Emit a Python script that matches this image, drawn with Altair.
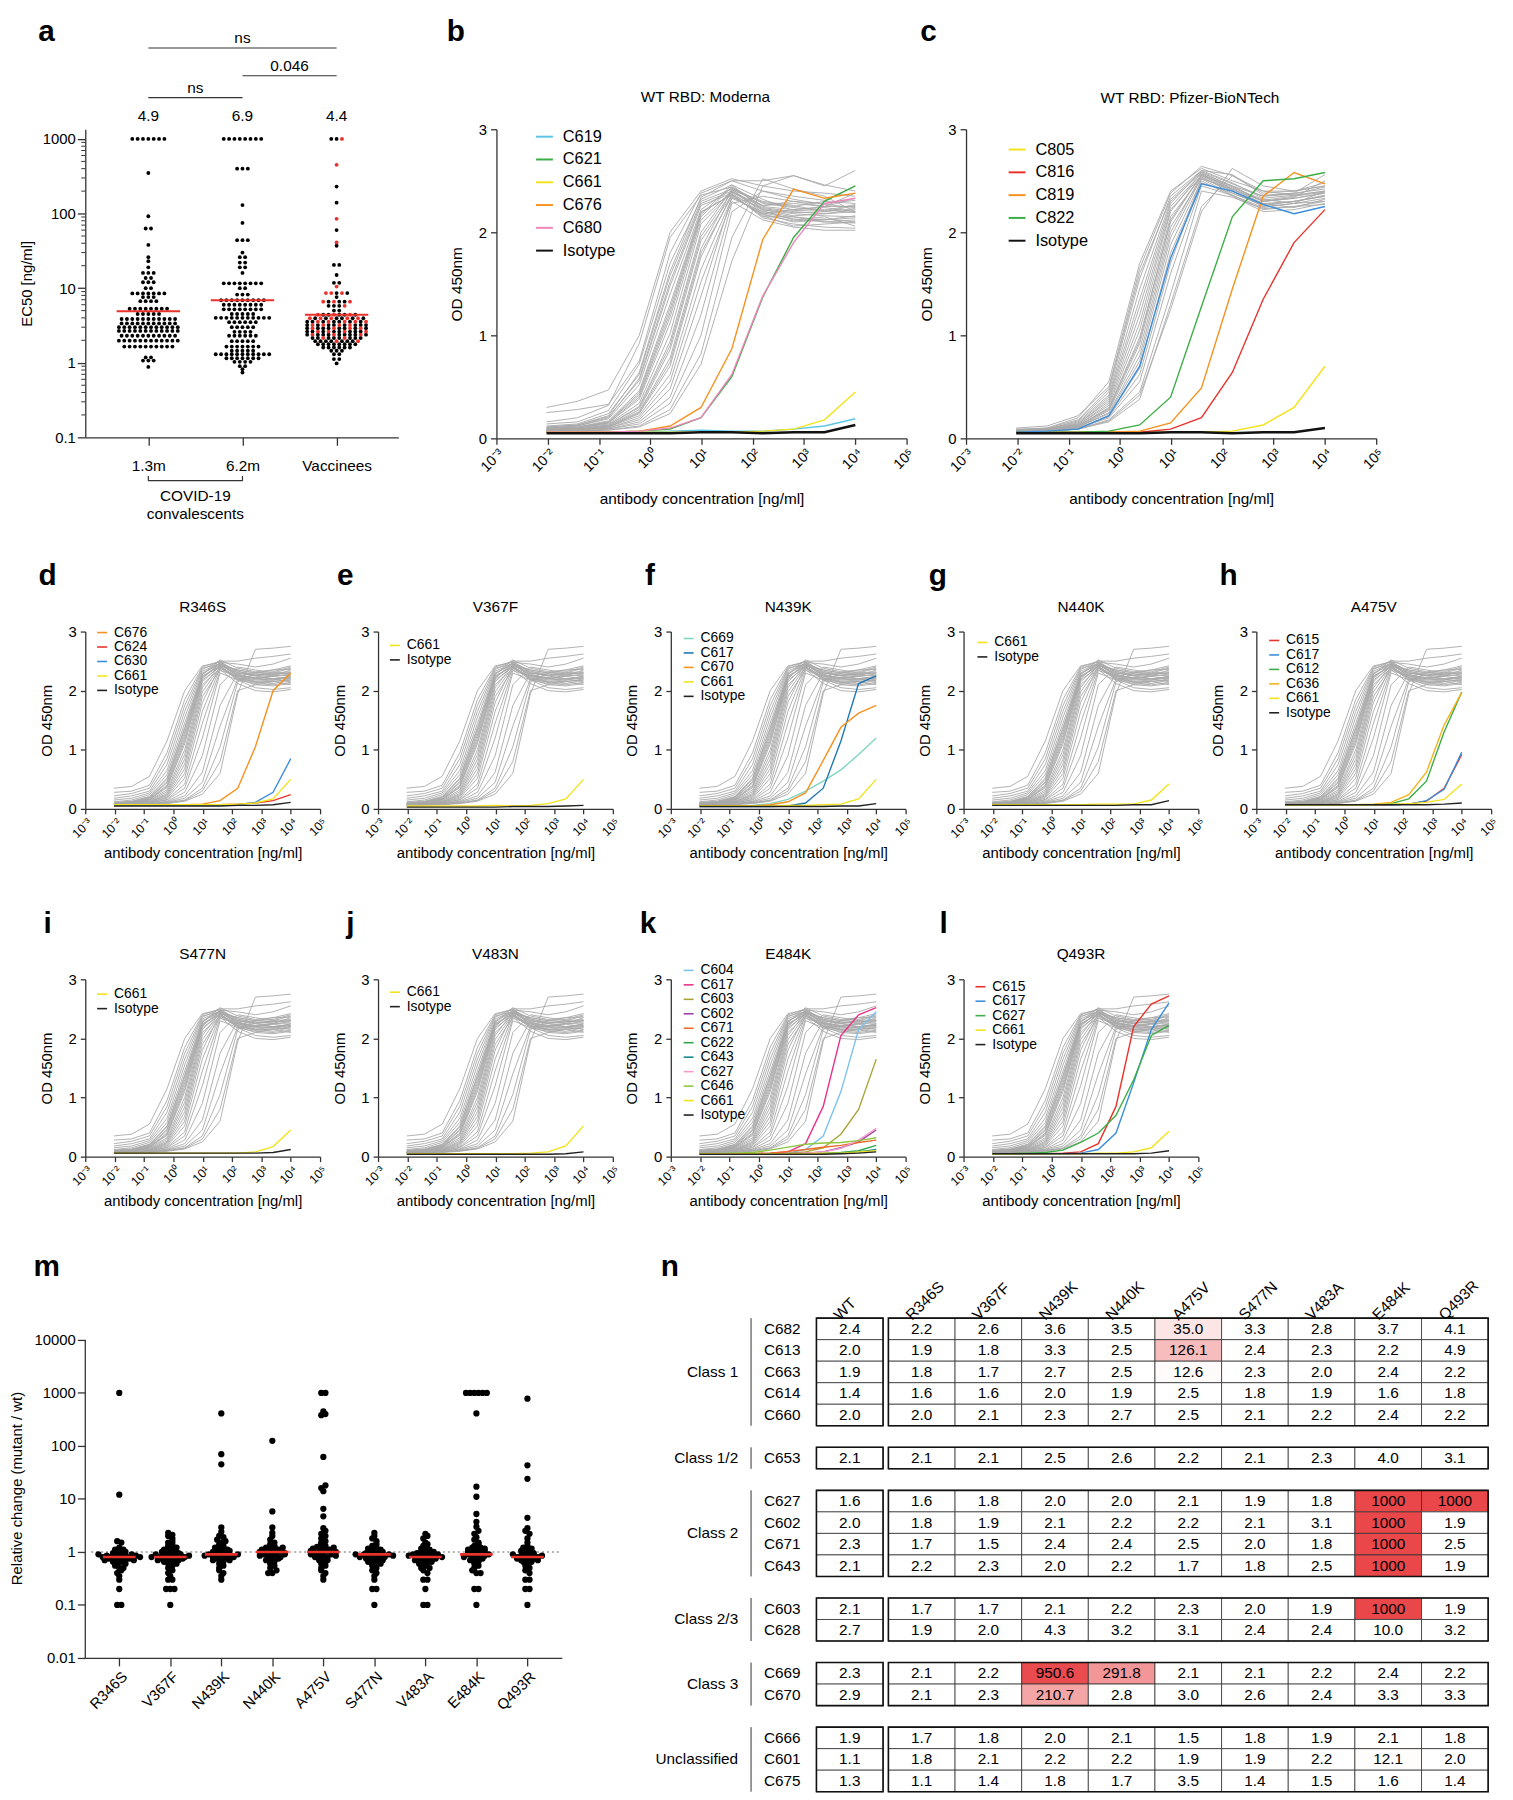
import altair as alt
import numpy as np
import pandas as pd

FONT = "Liberation Sans"
AXC = "#333333"
GRAY = "#A8A8A8"
RED = "#E8322B"

# ---------------- shared curve data ----------------
CONC = [0.0095, 0.038, 0.153, 0.61, 2.44, 9.77, 39.06, 156.25, 625.0, 2500.0, 10000.0]
X_TICKS = [0.001, 0.01, 0.1, 1, 10, 100, 1000, 10000, 100000]
X_TICK_LABELS = ["10⁻³", "10⁻²", "10⁻¹", "10⁰", "10¹", "10²", "10³", "10⁴", "10⁵"]
OD_TICKS = [0, 1, 2, 3]

GRAY_B = [
    [0.30, 0.36, 0.47, 1.00, 2.00, 2.40, 2.52, 2.45, 2.40, 2.38, 2.35],
    [0.25, 0.28, 0.33, 0.75, 1.80, 2.38, 2.50, 2.50, 2.55, 2.45, 2.60],
    [0.16, 0.20, 0.32, 0.92, 1.95, 2.36, 2.44, 2.25, 2.22, 2.25, 2.38],
    [0.14, 0.16, 0.27, 0.72, 1.70, 2.32, 2.46, 2.22, 2.16, 2.18, 2.22],
    [0.12, 0.14, 0.24, 0.62, 1.58, 2.30, 2.42, 2.30, 2.26, 2.20, 2.26],
    [0.11, 0.13, 0.21, 0.56, 1.48, 2.26, 2.38, 2.18, 2.10, 2.12, 2.16],
    [0.10, 0.12, 0.19, 0.52, 1.40, 2.22, 2.43, 2.26, 2.30, 2.28, 2.31],
    [0.10, 0.11, 0.17, 0.46, 1.30, 2.20, 2.36, 2.16, 2.06, 2.08, 2.10],
    [0.09, 0.11, 0.16, 0.42, 1.22, 2.17, 2.46, 2.32, 2.21, 2.22, 2.19],
    [0.09, 0.10, 0.15, 0.38, 1.12, 2.12, 2.40, 2.21, 2.12, 2.15, 2.06],
    [0.08, 0.10, 0.14, 0.34, 1.02, 2.08, 2.39, 2.26, 2.28, 2.25, 2.33],
    [0.08, 0.09, 0.13, 0.31, 0.94, 2.00, 2.42, 2.19, 2.13, 2.10, 2.09],
    [0.08, 0.09, 0.12, 0.28, 0.86, 1.92, 2.36, 2.23, 2.19, 2.20, 2.23],
    [0.07, 0.09, 0.12, 0.26, 0.78, 1.84, 2.41, 2.29, 2.25, 2.30, 2.28],
    [0.07, 0.08, 0.11, 0.24, 0.70, 1.76, 2.37, 2.14, 2.08, 2.05, 2.04],
    [0.07, 0.08, 0.11, 0.22, 0.62, 1.64, 2.33, 2.20, 2.15, 2.12, 2.14],
    [0.07, 0.08, 0.10, 0.20, 0.55, 1.52, 2.30, 2.12, 2.05, 2.02, 2.02],
    [0.07, 0.08, 0.10, 0.18, 0.48, 1.38, 2.34, 2.18, 2.22, 2.24, 2.20],
    [0.06, 0.07, 0.09, 0.16, 0.40, 1.20, 2.28, 2.35, 2.30, 2.25, 2.25],
    [0.06, 0.07, 0.09, 0.14, 0.34, 1.00, 2.20, 2.40, 2.32, 2.27, 2.24],
    [0.06, 0.07, 0.08, 0.12, 0.28, 0.82, 1.95, 2.52, 2.42, 2.35, 2.20],
    [0.06, 0.07, 0.08, 0.11, 0.24, 0.72, 1.72, 2.45, 2.55, 2.46, 2.40],
    [0.11, 0.13, 0.22, 0.64, 1.62, 2.34, 2.50, 2.40, 2.35, 2.31, 2.45],
    [0.09, 0.10, 0.16, 0.44, 1.26, 2.19, 2.37, 2.15, 2.15, 2.10, 2.12],
    [0.10, 0.12, 0.20, 0.58, 1.52, 2.28, 2.40, 2.24, 2.20, 2.18, 2.20],
    [0.08, 0.10, 0.15, 0.40, 1.18, 2.15, 2.44, 2.28, 2.24, 2.21, 2.27],
    [0.07, 0.09, 0.13, 0.30, 0.90, 1.96, 2.39, 2.22, 2.18, 2.16, 2.15],
    [0.07, 0.08, 0.11, 0.25, 0.74, 1.80, 2.35, 2.17, 2.11, 2.13, 2.10],
]

GRAY_C = [
    [0.09, 0.10, 0.20, 0.55, 1.70, 2.40, 2.62, 2.50, 2.40, 2.40, 2.45],
    [0.08, 0.09, 0.17, 0.45, 1.55, 2.35, 2.60, 2.56, 2.36, 2.38, 2.42],
    [0.08, 0.09, 0.16, 0.42, 1.45, 2.30, 2.58, 2.45, 2.30, 2.33, 2.38],
    [0.08, 0.09, 0.15, 0.40, 1.35, 2.28, 2.60, 2.48, 2.33, 2.36, 2.40],
    [0.07, 0.09, 0.14, 0.38, 1.28, 2.25, 2.57, 2.42, 2.28, 2.30, 2.35],
    [0.07, 0.08, 0.14, 0.36, 1.20, 2.22, 2.55, 2.40, 2.25, 2.28, 2.33],
    [0.07, 0.08, 0.13, 0.34, 1.12, 2.20, 2.58, 2.44, 2.30, 2.34, 2.50],
    [0.07, 0.08, 0.13, 0.32, 1.05, 2.15, 2.54, 2.38, 2.26, 2.30, 2.36],
    [0.07, 0.08, 0.12, 0.30, 0.98, 2.10, 2.56, 2.43, 2.32, 2.28, 2.40],
    [0.07, 0.08, 0.12, 0.28, 0.92, 2.05, 2.52, 2.36, 2.22, 2.25, 2.30],
    [0.07, 0.08, 0.11, 0.27, 0.86, 2.00, 2.55, 2.45, 2.35, 2.38, 2.56],
    [0.06, 0.08, 0.11, 0.25, 0.80, 1.95, 2.53, 2.40, 2.28, 2.24, 2.32],
    [0.06, 0.07, 0.11, 0.24, 0.75, 1.88, 2.50, 2.35, 2.20, 2.22, 2.28],
    [0.06, 0.07, 0.10, 0.22, 0.68, 1.80, 2.48, 2.38, 2.27, 2.30, 2.35],
    [0.06, 0.07, 0.10, 0.21, 0.62, 1.70, 2.52, 2.42, 2.30, 2.33, 2.38],
    [0.06, 0.07, 0.10, 0.20, 0.55, 1.60, 2.45, 2.36, 2.24, 2.28, 2.30],
    [0.06, 0.07, 0.09, 0.18, 0.45, 1.40, 2.40, 2.34, 2.23, 2.25, 2.27],
    [0.06, 0.07, 0.09, 0.17, 0.42, 1.25, 2.20, 2.62, 2.45, 2.40, 2.45],
    [0.06, 0.07, 0.09, 0.16, 0.38, 1.30, 2.25, 2.55, 2.40, 2.36, 2.40],
    [0.10, 0.12, 0.22, 0.50, 1.65, 2.38, 2.64, 2.55, 2.38, 2.40, 2.48],
    [0.08, 0.10, 0.18, 0.48, 1.60, 2.32, 2.59, 2.47, 2.35, 2.37, 2.44],
    [0.07, 0.08, 0.12, 0.29, 0.95, 2.12, 2.56, 2.41, 2.31, 2.35, 2.39],
]

GRAY_S = [
    [0.35, 0.38, 0.55, 1.15, 2.00, 2.42, 2.48, 2.45, 2.40, 2.45, 2.55],
    [0.28, 0.30, 0.40, 0.95, 1.85, 2.40, 2.50, 2.50, 2.55, 2.58, 2.62],
    [0.22, 0.26, 0.35, 0.85, 1.75, 2.38, 2.45, 2.35, 2.30, 2.28, 2.30],
    [0.18, 0.22, 0.30, 0.75, 1.65, 2.36, 2.50, 2.30, 2.25, 2.20, 2.22],
    [0.15, 0.18, 0.27, 0.65, 1.55, 2.33, 2.46, 2.28, 2.20, 2.18, 2.25],
    [0.12, 0.15, 0.24, 0.58, 1.45, 2.30, 2.44, 2.25, 2.18, 2.20, 2.15],
    [0.11, 0.13, 0.21, 0.52, 1.38, 2.28, 2.47, 2.32, 2.28, 2.25, 2.35],
    [0.10, 0.12, 0.19, 0.46, 1.30, 2.25, 2.42, 2.20, 2.10, 2.08, 2.12],
    [0.09, 0.11, 0.17, 0.40, 1.20, 2.22, 2.45, 2.27, 2.22, 2.25, 2.28],
    [0.09, 0.10, 0.16, 0.36, 1.10, 2.18, 2.40, 2.18, 2.05, 2.02, 2.05],
    [0.08, 0.10, 0.15, 0.32, 1.00, 2.15, 2.43, 2.30, 2.26, 2.30, 2.38],
    [0.08, 0.09, 0.14, 0.29, 0.92, 2.10, 2.38, 2.22, 2.15, 2.12, 2.18],
    [0.08, 0.09, 0.13, 0.26, 0.84, 2.05, 2.44, 2.26, 2.20, 2.24, 2.20],
    [0.07, 0.09, 0.12, 0.24, 0.76, 1.98, 2.40, 2.24, 2.16, 2.18, 2.22],
    [0.07, 0.08, 0.12, 0.22, 0.68, 1.90, 2.36, 2.12, 2.00, 1.98, 2.02],
    [0.07, 0.08, 0.11, 0.20, 0.60, 1.80, 2.42, 2.35, 2.30, 2.32, 2.40],
    [0.07, 0.08, 0.11, 0.18, 0.52, 1.65, 2.38, 2.20, 2.14, 2.16, 2.18],
    [0.06, 0.08, 0.10, 0.16, 0.42, 1.45, 2.34, 2.25, 2.22, 2.20, 2.24],
    [0.06, 0.07, 0.10, 0.15, 0.35, 1.20, 2.30, 2.18, 2.12, 2.10, 2.14],
    [0.06, 0.07, 0.09, 0.13, 0.28, 0.90, 2.10, 2.40, 2.35, 2.30, 2.32],
    [0.06, 0.07, 0.09, 0.12, 0.22, 0.62, 1.75, 2.30, 2.25, 2.28, 2.30],
    [0.06, 0.07, 0.08, 0.11, 0.18, 0.45, 1.40, 2.20, 2.20, 2.25, 2.26],
    [0.06, 0.07, 0.08, 0.10, 0.15, 0.35, 1.05, 2.15, 2.30, 2.35, 2.36],
    [0.06, 0.06, 0.08, 0.10, 0.14, 0.30, 0.80, 2.00, 2.10, 2.15, 2.20],
    [0.06, 0.06, 0.07, 0.09, 0.13, 0.25, 0.60, 1.95, 2.70, 2.72, 2.75],
    [0.10, 0.12, 0.20, 0.50, 1.35, 2.27, 2.52, 2.38, 2.32, 2.35, 2.42],
    [0.09, 0.11, 0.18, 0.44, 1.25, 2.24, 2.41, 2.22, 2.14, 2.16, 2.10],
    [0.08, 0.10, 0.16, 0.38, 1.15, 2.20, 2.48, 2.33, 2.26, 2.28, 2.30],
]

# ---- coloured curves, panel by panel ----
B_NAMES = ["C619", "C621", "C661", "C676", "C680", "Isotype"]
B_VALUES = [
    [0.06, 0.06, 0.06, 0.06, 0.07, 0.08, 0.07, 0.07, 0.09, 0.12, 0.19],
    [0.06, 0.06, 0.06, 0.07, 0.09, 0.20, 0.60, 1.37, 1.95, 2.30, 2.45],
    [0.06, 0.06, 0.06, 0.06, 0.06, 0.06, 0.06, 0.07, 0.09, 0.18, 0.45],
    [0.06, 0.06, 0.06, 0.07, 0.12, 0.30, 0.87, 1.93, 2.42, 2.33, 2.38],
    [0.06, 0.06, 0.06, 0.07, 0.10, 0.20, 0.62, 1.38, 1.90, 2.28, 2.33],
    [0.05, 0.05, 0.05, 0.05, 0.05, 0.06, 0.06, 0.05, 0.06, 0.06, 0.13],
]
C_NAMES = ["C805", "C816", "C819", "C822", "C8xx", "Isotype"]
C_LEGEND = ["C805", "C816", "C819", "C822", "Isotype"]
C_VALUES = [
    [0.06, 0.06, 0.06, 0.06, 0.06, 0.06, 0.06, 0.07, 0.13, 0.30, 0.70],
    [0.06, 0.06, 0.06, 0.06, 0.06, 0.09, 0.20, 0.64, 1.35, 1.90, 2.22],
    [0.06, 0.06, 0.06, 0.06, 0.07, 0.15, 0.49, 1.45, 2.35, 2.58, 2.47],
    [0.06, 0.06, 0.06, 0.07, 0.13, 0.40, 1.28, 2.15, 2.50, 2.52, 2.58],
    [0.06, 0.07, 0.09, 0.22, 0.70, 1.75, 2.47, 2.40, 2.27, 2.18, 2.25],
    [0.05, 0.05, 0.05, 0.05, 0.05, 0.06, 0.06, 0.05, 0.06, 0.06, 0.10],
]
D_NAMES = ["C676", "C624", "C630", "C661", "Isotype"]
D_VALUES = [
    [0.07, 0.07, 0.07, 0.07, 0.07, 0.08, 0.14, 0.35, 1.05, 2.00, 2.30],
    [0.07, 0.07, 0.07, 0.07, 0.07, 0.07, 0.07, 0.08, 0.10, 0.14, 0.24],
    [0.06, 0.06, 0.06, 0.06, 0.06, 0.06, 0.06, 0.07, 0.11, 0.28, 0.85],
    [0.07, 0.07, 0.07, 0.07, 0.07, 0.07, 0.07, 0.08, 0.10, 0.17, 0.50],
    [0.05, 0.05, 0.05, 0.05, 0.05, 0.05, 0.05, 0.06, 0.06, 0.07, 0.11],
]
E_NAMES = ["C661", "Isotype"]
E_VALUES = [
    [0.05, 0.05, 0.05, 0.05, 0.05, 0.06, 0.05, 0.06, 0.09, 0.17, 0.50],
    [0.03, 0.03, 0.03, 0.03, 0.03, 0.03, 0.04, 0.04, 0.04, 0.05, 0.06],
]
F_NAMES = ["C669", "C617", "C670", "C661", "Isotype"]
F_VALUES = [
    [0.05, 0.05, 0.05, 0.06, 0.09, 0.16, 0.30, 0.47, 0.66, 0.92, 1.20],
    [0.04, 0.04, 0.04, 0.04, 0.04, 0.05, 0.10, 0.35, 1.15, 2.12, 2.25],
    [0.05, 0.05, 0.05, 0.05, 0.07, 0.12, 0.27, 0.82, 1.38, 1.62, 1.75],
    [0.05, 0.05, 0.05, 0.05, 0.05, 0.06, 0.06, 0.07, 0.08, 0.17, 0.50],
    [0.04, 0.04, 0.04, 0.04, 0.04, 0.04, 0.04, 0.04, 0.05, 0.05, 0.09],
]
G_NAMES = ["C661", "Isotype"]
G_VALUES = [
    [0.07, 0.07, 0.07, 0.07, 0.07, 0.07, 0.08, 0.08, 0.08, 0.15, 0.42],
    [0.06, 0.06, 0.06, 0.06, 0.06, 0.06, 0.06, 0.06, 0.07, 0.07, 0.14],
]
H_NAMES = ["C615", "C617", "C612", "C636", "C661", "Isotype"]
H_VALUES = [
    [0.07, 0.07, 0.07, 0.07, 0.07, 0.07, 0.07, 0.08, 0.13, 0.35, 0.92],
    [0.07, 0.07, 0.07, 0.07, 0.07, 0.07, 0.07, 0.08, 0.14, 0.33, 0.96],
    [0.07, 0.07, 0.07, 0.07, 0.07, 0.07, 0.09, 0.17, 0.47, 1.30, 1.98],
    [0.07, 0.07, 0.07, 0.07, 0.07, 0.08, 0.11, 0.24, 0.62, 1.42, 1.97],
    [0.07, 0.07, 0.07, 0.07, 0.07, 0.07, 0.08, 0.09, 0.11, 0.16, 0.42],
    [0.07, 0.07, 0.07, 0.07, 0.07, 0.07, 0.07, 0.07, 0.07, 0.08, 0.10],
]
I_NAMES = ["C661", "Isotype"]
I_VALUES = [
    [0.06, 0.06, 0.06, 0.06, 0.06, 0.06, 0.06, 0.06, 0.08, 0.17, 0.45],
    [0.06, 0.06, 0.06, 0.06, 0.06, 0.06, 0.06, 0.06, 0.06, 0.07, 0.12],
]
J_NAMES = ["C661", "Isotype"]
J_VALUES = [
    [0.05, 0.05, 0.05, 0.05, 0.05, 0.05, 0.05, 0.06, 0.08, 0.18, 0.52],
    [0.04, 0.04, 0.04, 0.04, 0.04, 0.04, 0.04, 0.04, 0.04, 0.05, 0.08],
]
K_NAMES = ["C604", "C617", "C603", "C602", "C671", "C622", "C643", "C627", "C646", "C661", "Isotype"]
K_VALUES = [
    [0.05, 0.05, 0.05, 0.05, 0.05, 0.06, 0.12, 0.35, 1.10, 2.15, 2.45],
    [0.05, 0.05, 0.05, 0.05, 0.06, 0.08, 0.22, 0.85, 2.05, 2.40, 2.52],
    [0.05, 0.05, 0.05, 0.05, 0.05, 0.06, 0.08, 0.15, 0.38, 0.80, 1.65],
    [0.05, 0.05, 0.05, 0.05, 0.05, 0.05, 0.06, 0.08, 0.15, 0.25, 0.45],
    [0.05, 0.05, 0.05, 0.05, 0.06, 0.09, 0.12, 0.16, 0.19, 0.24, 0.28],
    [0.05, 0.05, 0.05, 0.05, 0.05, 0.05, 0.05, 0.06, 0.07, 0.10, 0.19],
    [0.04, 0.04, 0.04, 0.04, 0.04, 0.04, 0.05, 0.05, 0.06, 0.08, 0.12],
    [0.05, 0.05, 0.05, 0.05, 0.05, 0.05, 0.06, 0.08, 0.14, 0.28, 0.48],
    [0.05, 0.05, 0.06, 0.07, 0.11, 0.16, 0.21, 0.23, 0.24, 0.27, 0.32],
    [0.05, 0.05, 0.05, 0.05, 0.05, 0.05, 0.05, 0.06, 0.06, 0.08, 0.10],
    [0.04, 0.04, 0.04, 0.04, 0.04, 0.04, 0.04, 0.04, 0.05, 0.06, 0.08],
]
L_NAMES = ["C615", "C617", "C627", "C661", "Isotype"]
L_VALUES = [
    [0.05, 0.05, 0.05, 0.05, 0.06, 0.08, 0.22, 0.85, 2.20, 2.58, 2.72],
    [0.05, 0.05, 0.05, 0.05, 0.05, 0.06, 0.12, 0.40, 1.25, 2.15, 2.60],
    [0.05, 0.05, 0.06, 0.07, 0.11, 0.24, 0.40, 0.70, 1.30, 2.05, 2.22],
    [0.05, 0.05, 0.05, 0.05, 0.05, 0.05, 0.06, 0.06, 0.08, 0.15, 0.43],
    [0.05, 0.05, 0.05, 0.05, 0.05, 0.05, 0.05, 0.05, 0.05, 0.06, 0.10],
]

# ---------------- panel a: EC50 rows (value, number of dots in the row) ----------------
A_GROUPS = ["1.3m", "6.2m", "Vaccinees"]
A_GEO = [4.9, 6.9, 4.4]
A_ROWS_13 = [(1000, 7), (350, 1), (92, 1), (63, 2), (38, 1), (26, 1), (23, 1), (19, 1), (16, 3),
             (13.7, 2), (12, 3), (10, 2), (8.5, 7), (7.6, 3), (6.7, 4), (5.3, 8), (4.5, 5),
             (3.86, 11), (3.37, 11), (3.0, 12), (2.67, 12), (2.3, 11), (1.98, 12), (1.65, 10),
             (1.18, 2), (1.07, 3), (0.88, 1)]
A_ROWS_62 = [(1000, 8), (400, 3), (130, 1), (75, 1), (44, 3), (30, 1), (26, 2), (22, 2), (19, 2),
             (16, 1), (11.6, 8), (10, 2), (8.2, 3), (6.9, 9), (6.0, 8), (5.2, 8), (4.5, 5),
             (4.0, 11), (3.5, 6), (3.0, 5), (2.6, 4), (2.3, 6), (1.95, 5), (1.65, 7), (1.45, 5),
             (1.3, 11), (1.15, 7), (1.03, 4), (0.9, 2), (0.82, 1), (0.74, 1)]
A_ROWS_VAC_BLACK = [(1000, 2), (230, 1), (140, 1), (60, 1), (37, 1), (20.5, 2), (15, 1), (11.8, 2),
                    (8.6, 2), (7.6, 1), (6.6, 3), (5.8, 3), (5.0, 2), (4.4, 5), (3.95, 6), (3.55, 7),
                    (3.2, 8), (2.9, 8), (2.62, 8), (2.38, 9), (2.15, 8), (1.95, 7), (1.77, 8),
                    (1.6, 6), (1.45, 3), (1.3, 2), (1.12, 2), (0.98, 1)]
A_ROWS_VAC_RED = [(1000, 1), (450, 1), (85, 1), (41, 1), (10.5, 1), (8.6, 3), (6.6, 3), (5.8, 1),
                  (4.4, 3), (3.95, 5), (3.55, 5), (3.2, 4), (2.9, 4), (2.62, 4), (2.38, 3),
                  (2.15, 2), (1.95, 2)]
A_BR_FROM = [1, 2, 1]
A_BR_TO = [3, 3, 2]
A_BR_TEXT = ["ns", "0.046", "ns"]
A_YTICKS = [0.1, 1, 10, 100, 1000]
A_MINOR = [0.2, 0.3, 0.4, 0.5, 0.6, 0.7, 0.8, 0.9, 2, 3, 4, 5, 6, 7, 8, 9,
           20, 30, 40, 50, 60, 70, 80, 90, 200, 300, 400, 500, 600, 700, 800, 900]

# ---------------- panel m: relative change ----------------
M_NAMES = ["R346S", "V367F", "N439K", "N440K", "A475V", "S477N", "V483A", "E484K", "Q493R"]
M_MEDIAN = [0.8, 0.8, 0.9, 1.0, 1.0, 0.9, 0.8, 0.9, 0.8]
M_VALUES = [
    [1000, 12, 1.6, 1.5, 1.2, 1.1, 1.1, 1.0, 1.0, 1.0, 0.95, 0.9, 0.9, 0.9, 0.85, 0.85, 0.85, 0.8, 0.8,
     0.8, 0.8, 0.8, 0.75, 0.75, 0.75, 0.7, 0.7, 0.7, 0.7, 0.7, 0.65, 0.65, 0.6, 0.6, 0.55, 0.5, 0.5,
     0.45, 0.4, 0.35, 0.3, 0.2, 0.1, 0.1],
    [2.3, 2.1, 2.0, 1.8, 1.6, 1.5, 1.4, 1.3, 1.2, 1.2, 1.1, 1.1, 1.05, 1.0, 1.0, 0.95, 0.95, 0.9, 0.9,
     0.9, 0.85, 0.85, 0.85, 0.8, 0.8, 0.8, 0.8, 0.75, 0.75, 0.75, 0.7, 0.7, 0.7, 0.7, 0.65, 0.65, 0.6,
     0.6, 0.55, 0.5, 0.45, 0.4, 0.35, 0.3, 0.3, 0.2, 0.2, 0.2, 0.1],
    [410, 70, 45, 2.9, 2.4, 2.0, 1.9, 1.7, 1.6, 1.5, 1.4, 1.3, 1.2, 1.2, 1.1, 1.1, 1.05, 1.0, 1.0,
     0.95, 0.95, 0.9, 0.9, 0.9, 0.9, 0.85, 0.85, 0.8, 0.8, 0.8, 0.75, 0.75, 0.7, 0.7, 0.7, 0.65, 0.6,
     0.55, 0.5, 0.45, 0.4, 0.35, 0.3],
    [125, 5.8, 2.9, 2.3, 2.0, 1.7, 1.5, 1.4, 1.3, 1.25, 1.2, 1.2, 1.15, 1.1, 1.1, 1.05, 1.05, 1.0, 1.0,
     1.0, 0.95, 0.95, 0.9, 0.9, 0.9, 0.85, 0.85, 0.8, 0.8, 0.75, 0.75, 0.7, 0.7, 0.65, 0.6, 0.55, 0.5,
     0.45, 0.4, 0.4],
    [1000, 1000, 450, 400, 380, 62, 18, 16, 14, 6.5, 4.7, 2.8, 2.5, 2.2, 2.0, 1.8, 1.6, 1.5, 1.4, 1.3,
     1.25, 1.2, 1.2, 1.15, 1.1, 1.1, 1.05, 1.05, 1.0, 1.0, 1.0, 0.95, 0.95, 0.9, 0.9, 0.9, 0.85, 0.85,
     0.8, 0.8, 0.75, 0.7, 0.7, 0.65, 0.6, 0.55, 0.5, 0.45, 0.4, 0.35, 0.3],
    [2.3, 2.0, 1.8, 1.6, 1.4, 1.3, 1.2, 1.15, 1.1, 1.1, 1.05, 1.0, 1.0, 0.95, 0.95, 0.9, 0.9, 0.9, 0.9,
     0.85, 0.85, 0.85, 0.8, 0.8, 0.8, 0.75, 0.75, 0.7, 0.7, 0.7, 0.65, 0.65, 0.6, 0.6, 0.55, 0.5, 0.45,
     0.4, 0.35, 0.3, 0.2, 0.2, 0.1],
    [2.2, 2.0, 1.8, 1.5, 1.4, 1.3, 1.2, 1.15, 1.1, 1.05, 1.0, 1.0, 0.95, 0.95, 0.9, 0.9, 0.9, 0.85,
     0.85, 0.8, 0.8, 0.8, 0.8, 0.75, 0.75, 0.75, 0.7, 0.7, 0.7, 0.65, 0.65, 0.6, 0.6, 0.55, 0.5, 0.5,
     0.45, 0.4, 0.3, 0.3, 0.2, 0.1, 0.1],
    [1000, 1000, 1000, 1000, 1000, 1000, 410, 17, 11, 5.2, 3.7, 3.0, 2.5, 2.2, 1.9, 1.7, 1.5, 1.4, 1.3,
     1.2, 1.2, 1.15, 1.1, 1.1, 1.05, 1.0, 1.0, 0.95, 0.95, 0.9, 0.9, 0.9, 0.85, 0.85, 0.8, 0.8, 0.75,
     0.75, 0.7, 0.7, 0.65, 0.6, 0.55, 0.5, 0.45, 0.4, 0.4, 0.2, 0.2, 0.1],
    [780, 43, 24, 4.4, 2.8, 2.5, 2.2, 1.8, 1.5, 1.3, 1.2, 1.15, 1.1, 1.05, 1.0, 1.0, 0.95, 0.9, 0.9,
     0.9, 0.85, 0.85, 0.8, 0.8, 0.8, 0.75, 0.75, 0.75, 0.7, 0.7, 0.7, 0.65, 0.65, 0.6, 0.55, 0.5, 0.45,
     0.4, 0.3, 0.3, 0.2, 0.2, 0.1],
]
M_YTICKS = [0.01, 0.1, 1, 10, 100, 1000, 10000]

# ---------------- panel n: EC50 table ----------------
N_COLS = ["WT", "R346S", "V367F", "N439K", "N440K", "A475V", "S477N", "V483A", "E484K", "Q493R"]
N_ROWS = ["C682", "C613", "C663", "C614", "C660", "C653", "C627", "C602", "C671", "C643",
          "C603", "C628", "C669", "C670", "C666", "C601", "C675"]
N_CLASS = ["Class 1", "Class 1", "Class 1", "Class 1", "Class 1", "Class 1/2",
           "Class 2", "Class 2", "Class 2", "Class 2", "Class 2/3", "Class 2/3",
           "Class 3", "Class 3", "Unclassified", "Unclassified", "Unclassified"]
N_VALUES = [
    [2.4, 2.2, 2.6, 3.6, 3.5, 35.0, 3.3, 2.8, 3.7, 4.1],
    [2.0, 1.9, 1.8, 3.3, 2.5, 126.1, 2.4, 2.3, 2.2, 4.9],
    [1.9, 1.8, 1.7, 2.7, 2.5, 12.6, 2.3, 2.0, 2.4, 2.2],
    [1.4, 1.6, 1.6, 2.0, 1.9, 2.5, 1.8, 1.9, 1.6, 1.8],
    [2.0, 2.0, 2.1, 2.3, 2.7, 2.5, 2.1, 2.2, 2.4, 2.2],
    [2.1, 2.1, 2.1, 2.5, 2.6, 2.2, 2.1, 2.3, 4.0, 3.1],
    [1.6, 1.6, 1.8, 2.0, 2.0, 2.1, 1.9, 1.8, 1000, 1000],
    [2.0, 1.8, 1.9, 2.1, 2.2, 2.2, 2.1, 3.1, 1000, 1.9],
    [2.3, 1.7, 1.5, 2.4, 2.4, 2.5, 2.0, 1.8, 1000, 2.5],
    [2.1, 2.2, 2.3, 2.0, 2.2, 1.7, 1.8, 2.5, 1000, 1.9],
    [2.1, 1.7, 1.7, 2.1, 2.2, 2.3, 2.0, 1.9, 1000, 1.9],
    [2.7, 1.9, 2.0, 4.3, 3.2, 3.1, 2.4, 2.4, 10.0, 3.2],
    [2.3, 2.1, 2.2, 950.6, 291.8, 2.1, 2.1, 2.2, 2.4, 2.2],
    [2.9, 2.1, 2.3, 210.7, 2.8, 3.0, 2.6, 2.4, 3.3, 3.3],
    [1.9, 1.7, 1.8, 2.0, 2.1, 1.5, 1.8, 1.9, 2.1, 1.8],
    [1.1, 1.8, 2.1, 2.2, 2.2, 1.9, 1.9, 2.2, 12.1, 2.0],
    [1.3, 1.1, 1.4, 1.8, 1.7, 3.5, 1.4, 1.5, 1.6, 1.4],
]

# ---------------- styles ----------------
B_COLORS = ["#5BC5E6", "#3CAE46", "#F2E31B", "#F7911F", "#EE86BC", "#111111"]
C_COLORS = ["#F2E31B", "#E8322B", "#F7911F", "#3CAE46", "#3B8EDB", "#111111"]
D_COLORS = ["#F7911F", "#E8322B", "#3B8EDB", "#F2E31B", "#222222"]
E_COLORS = ["#F2E31B", "#222222"]
F_COLORS = ["#7FD6C2", "#1F78B4", "#F7911F", "#F2E31B", "#222222"]
H_COLORS = ["#E8322B", "#3B8EDB", "#3CAE46", "#F6B21A", "#F2E31B", "#222222"]
K_COLORS = ["#7CC0EE", "#E8338A", "#A9A43A", "#9B40A6", "#F26A2B", "#2EA84A", "#17878F",
            "#F29AC8", "#8DC63F", "#F2E31B", "#222222"]
L_COLORS = ["#E8322B", "#3B8EDB", "#3CAE46", "#F2E31B", "#222222"]


def js_array(items):
    return "[" + ",".join("'" + s + "'" for s in items) + "]"


SUP_EXPR = js_array(X_TICK_LABELS) + "[round(log(datum.value)/LN10)+3]"


def expand(rows):
    return [v for v, n in rows for _ in range(n)]


def swarm(values, px_per_dec, row_px, step_px):
    v = np.asarray(values, float)
    y = np.log10(v) * px_per_dec
    order = np.argsort(y, kind="stable")
    rows, cur, start = [], [], None
    for k in order:
        if start is None or y[k] - start > row_px:
            if cur:
                rows.append(cur)
            cur, start = [k], y[k]
        else:
            cur.append(k)
    if cur:
        rows.append(cur)
    off = np.zeros(len(v))
    for r in rows:
        n = len(r)
        rs = sorted(r, key=lambda k: (k * 0.6180339887) % 1.0)
        for j, k in enumerate(rs):
            off[k] = (j - (n - 1) / 2.0) * step_px
    return off


def text_layer(text, x, y, size, weight="normal", align="center", baseline="middle"):
    return alt.Chart(pd.DataFrame({"t": [text]})).mark_text(
        font=FONT, fontSize=size, fontWeight=weight, align=align, baseline=baseline, color="black"
    ).encode(text="t:N", x=alt.value(x), y=alt.value(y))


def curves_df(curves, names):
    rows = []
    for nm, vals in zip(names, curves):
        for c, v in zip(CONC, vals):
            rows.append({"name": nm, "conc": c, "od": v})
    return pd.DataFrame(rows)


def curve_panel(gray, names, colors, values, title, letter, letter_dx, letter_dy, title_dy,
                w, h, big, legend_x, legend_y, legend_values=None, letter_baseline="middle", title_dx=0):
    xl = 14.5 if big else 12.5
    at = 15.5 if big else 15
    tick = 6 if big else 5
    x = alt.X("conc:Q", scale=alt.Scale(type="log", domain=[X_TICKS[0], X_TICKS[-1]], nice=False),
              axis=alt.Axis(values=X_TICKS, labelExpr=SUP_EXPR, labelAngle=315, labelAlign="right",
                            labelBaseline="top", labelFontSize=xl, labelFlush=False, labelOverlap=False,
                            labelPadding=2, tickSize=tick, title="antibody concentration [ng/ml]",
                            titleFontSize=at, titlePadding=18 if big else 6))
    y = alt.Y("od:Q", scale=alt.Scale(domain=[0, 3], nice=False),
              axis=alt.Axis(values=OD_TICKS, labelFontSize=15, labelFlush=False, tickSize=tick,
                            labelPadding=4, title="OD 450nm", titleFontSize=at, titlePadding=14))
    gdf = curves_df(gray, ["g%d" % i for i in range(len(gray))])
    cdf = curves_df(values, names)
    leg_kw = dict(orient="none", legendX=legend_x, legendY=legend_y, title=None, symbolType="stroke",
                  symbolSize=289 if big else 100, symbolStrokeWidth=2 if big else 1.6,
                  labelFontSize=16.5 if big else 14, labelOffset=9 if big else 5,
                  rowPadding=5 if big else 0.6, padding=0, labelFont=FONT)
    if legend_values is not None:
        leg_kw["values"] = legend_values
    color = alt.Color("name:N", scale=alt.Scale(domain=names, range=colors), legend=alt.Legend(**leg_kw))
    g = alt.Chart(gdf).mark_line(color=GRAY, strokeWidth=0.9).encode(x=x, y=y, detail="name:N")
    c = alt.Chart(cdf).transform_filter("datum.name != 'Isotype'").mark_line(strokeWidth=1.4).encode(
        x=x, y=y, color=color)
    iso = alt.Chart(cdf).transform_filter("datum.name == 'Isotype'").mark_line(
        strokeWidth=2.6 if big else 1.4).encode(x=x, y=y, color=color)
    t = text_layer(title, w / 2.0 + title_dx, title_dy, 15.5)
    lt = text_layer(letter, letter_dx, letter_dy, 30, "bold", baseline=letter_baseline)
    return alt.layer(g, c, iso, t, lt).properties(width=w, height=h)


# ---------------- panel a ----------------
A_W, A_H = 316, 311
A_XDOM = [0.33, 3.656]
A_PX_UNIT = A_W / (A_XDOM[1] - A_XDOM[0])
TOP_LETTER_Y = -113  # letters of the first row, placed by their top edge


def a_x(field):
    return alt.X(field, scale=alt.Scale(domain=A_XDOM, nice=False, zero=False),
                 axis=alt.Axis(values=[1, 2, 3], labelExpr=js_array(A_GROUPS) + "[datum.value-1]",
                               title=None, tickSize=8, labelPadding=13, labelFontSize=15.5,
                               labelFlush=False, labelAngle=0))


def a_y(field):
    return alt.Y(field, scale=alt.Scale(type="log", domain=[0.1, 1349], nice=False),
                 axis=alt.Axis(values=A_YTICKS,
                               labelExpr="datum.value < 1 ? '0.1' : format(datum.value, 'd')",
                               title="EC50 [ng/ml]", tickSize=8, labelPadding=2, titlePadding=8,
                               labelFontSize=15, titleFontSize=15, labelFlush=False))


a_rows = []
for gi, vals in enumerate([expand(A_ROWS_13), expand(A_ROWS_62)]):
    off = swarm(vals, 75.3, 2.6, 5.4)
    for v, o in zip(vals, off):
        a_rows.append({"x": gi + 1 + o / A_PX_UNIT, "v": v, "c": "black"})
vac_b, vac_r = expand(A_ROWS_VAC_BLACK), expand(A_ROWS_VAC_RED)
vac = vac_b + vac_r
vac_c = ["black"] * len(vac_b) + ["red"] * len(vac_r)
off = swarm(vac, 75.3, 2.6, 5.4)
for v, o, cc in zip(vac, off, vac_c):
    a_rows.append({"x": 3 + o / A_PX_UNIT, "v": v, "c": cc})
a_df = pd.DataFrame(a_rows)

a_layers = [
    alt.Chart(a_df[a_df.c == "black"]).mark_circle(size=15, color="black", opacity=1).encode(
        x=a_x("x:Q"), y=a_y("v:Q")),
    alt.Chart(a_df[a_df.c == "red"]).mark_circle(size=15, color=RED, opacity=1).encode(
        x=a_x("x:Q"), y=a_y("v:Q")),
]
a_med = pd.DataFrame({"g": [1, 2, 3], "v": A_GEO, "lab": ["%.1f" % v for v in A_GEO]})
a_med["x1"] = a_med.g - 32.0 / A_PX_UNIT
a_med["x2"] = a_med.g + 32.0 / A_PX_UNIT
a_layers.append(alt.Chart(a_med).mark_rule(color=RED, strokeWidth=2).encode(
    x=a_x("x1:Q"), x2=alt.X2("x2"), y=a_y("v:Q")))
a_layers.append(alt.Chart(a_med).mark_text(font=FONT, fontSize=15.5, color="black").encode(
    x=a_x("g:Q"), y=alt.value(-13), text="lab:N"))
BR_LINE_Y = [-82, -54, -32]
BR_TEXT_Y = [-92, -64, -42]
for i in range(3):
    bdf = pd.DataFrame({"x1": [A_BR_FROM[i]], "x2": [A_BR_TO[i]],
                        "xm": [(A_BR_FROM[i] + A_BR_TO[i]) / 2.0], "t": [A_BR_TEXT[i]]})
    a_layers.append(alt.Chart(bdf).mark_rule(color=AXC, strokeWidth=1.2).encode(
        x=a_x("x1:Q"), x2=alt.X2("x2"), y=alt.value(BR_LINE_Y[i])))
    a_layers.append(alt.Chart(bdf).mark_text(font=FONT, fontSize=15.5, color="black").encode(
        x=a_x("xm:Q"), y=alt.value(BR_TEXT_Y[i]), text="t:N"))
conv = pd.DataFrame({"x1": [1], "x2": [2], "xm": [1.5], "t": ["COVID-19\nconvalescents"]})
a_layers.append(alt.Chart(conv).mark_rule(color=AXC, strokeWidth=1.2).encode(
    x=a_x("x1:Q"), x2=alt.X2("x2"), y=alt.value(354.6)))
ends = pd.DataFrame({"x": [1, 2]})
a_layers.append(alt.Chart(ends).mark_rule(color=AXC, strokeWidth=1.2).encode(
    x=a_x("x:Q"), y=alt.value(350), y2=alt.value(355)))
a_layers.append(alt.Chart(conv).mark_text(font=FONT, fontSize=15.5, color="black", baseline="top",
                                          lineBreak="\n", lineHeight=18).encode(
    x=a_x("xm:Q"), y=alt.value(363), text="t:N"))
a_layers.append(alt.Chart(pd.DataFrame({"v": A_MINOR})).mark_rule(color=AXC, strokeWidth=1).encode(
    y=a_y("v:Q"), x=alt.value(-4), x2=alt.value(0)))
a_layers.append(text_layer("a", -39, TOP_LETTER_Y, 30, "bold", baseline="top"))
panel_a = alt.layer(*a_layers).properties(width=A_W, height=A_H)

# ---------------- panels b, c ----------------
panel_b = curve_panel(GRAY_B, B_NAMES, B_COLORS, B_VALUES, "WT RBD: Moderna", "b", -41, TOP_LETTER_Y, -33,
                      414, 312, True, 39, -2, letter_baseline="top", title_dx=4)
panel_c = curve_panel(GRAY_C, C_NAMES, C_COLORS, C_VALUES, "WT RBD: Pfizer-BioNTech", "c", -38, TOP_LETTER_Y,
                      -31, 414, 312, True, 42, 11, legend_values=C_LEGEND, letter_baseline="top",
                      title_dx=19)

# ---------------- small panels ----------------
SW, SH = 237, 179
LET2, LET3, TIT2, TIT3 = -56, -56, -24.5, -25
panel_d = curve_panel(GRAY_S, D_NAMES, D_COLORS, D_VALUES, "R346S", "d", -38, LET2, TIT2, SW, SH, False, 10, -6)
panel_e = curve_panel(GRAY_S, E_NAMES, E_COLORS, E_VALUES, "V367F", "e", -33, LET2, TIT2, SW, SH, False, 10, 7)
panel_f = curve_panel(GRAY_S, F_NAMES, F_COLORS, F_VALUES, "N439K", "f", -21, LET2, TIT2, SW, SH, False, 11, 0)
panel_g = curve_panel(GRAY_S, G_NAMES, E_COLORS, G_VALUES, "N440K", "g", -26, LET2, TIT2, SW, SH, False, 12, 4)
panel_h = curve_panel(GRAY_S, H_NAMES, H_COLORS, H_VALUES, "A475V", "h", -28, LET2, TIT2, SW, SH, False, 11, 2)
panel_i = curve_panel(GRAY_S, I_NAMES, E_COLORS, I_VALUES, "S477N", "i", -38, LET3, TIT3, SW, SH, False, 10, 8)
panel_j = curve_panel(GRAY_S, J_NAMES, E_COLORS, J_VALUES, "V483N", "j", -28, LET3, TIT3, SW, SH, False, 10, 6)
panel_k = curve_panel(GRAY_S, K_NAMES, K_COLORS, K_VALUES, "E484K", "k", -23, LET3, TIT3, SW, SH, False, 11, -16)
panel_l = curve_panel(GRAY_S, L_NAMES, L_COLORS, L_VALUES, "Q493R", "l", -20, LET3, TIT3, SW, SH, False, 10, 0.5)

# ---------------- panel m ----------------
M_W, M_H = 481, 343
M_XDOM = [0.334, 9.674]
M_PX_UNIT = M_W / (M_XDOM[1] - M_XDOM[0])
M_YDOM = [0.01, 25760]


def m_x(field):
    return alt.X(field, scale=alt.Scale(domain=M_XDOM, nice=False, zero=False),
                 axis=alt.Axis(values=list(range(1, len(M_NAMES) + 1)),
                               labelExpr=js_array(M_NAMES) + "[datum.value-1]", labelAngle=315,
                               labelAlign="right", labelBaseline="top", labelFontSize=15,
                               tickSize=8, title=None, labelFlush=False, labelPadding=3))


def m_y(field):
    return alt.Y(field, scale=alt.Scale(type="log", domain=M_YDOM, nice=False),
                 axis=alt.Axis(values=M_YTICKS,
                               labelExpr="datum.value < 1 ? format(datum.value, '.2~f') : format(datum.value, 'd')",
                               title="Relative change (mutant / wt)", domain=False, tickSize=8,
                               labelPadding=2, titlePadding=10, labelFontSize=15, titleFontSize=15,
                               labelFlush=False))


m_rows = []
for gi, vals in enumerate(M_VALUES):
    off = swarm(vals, 53.5, 3.0, 4.2)
    for v, o in zip(vals, off):
        m_rows.append({"x": gi + 1 + o / M_PX_UNIT, "v": v})
m_df = pd.DataFrame(m_rows)
m_med = pd.DataFrame({"g": list(range(1, len(M_NAMES) + 1)), "v": M_MEDIAN})
m_med["x1"] = m_med.g - 16.5 / M_PX_UNIT
m_med["x2"] = m_med.g + 16.5 / M_PX_UNIT
m_layers = [
    alt.Chart(pd.DataFrame({"lo": [M_YTICKS[0]], "hi": [M_YTICKS[-1]]})).mark_rule(
        color=AXC, strokeWidth=1.3).encode(y=m_y("lo:Q"), y2=alt.Y2("hi"), x=alt.value(0)),
    alt.Chart(pd.DataFrame({"v": [1]})).mark_rule(color="#9A9A9A", strokeWidth=1.6, strokeDash=[2, 3]).encode(
        y=m_y("v:Q"), x=alt.value(6), x2=alt.value(M_W)),
    alt.Chart(m_df).mark_circle(size=40, color="black", opacity=1).encode(x=m_x("x:Q"), y=m_y("v:Q")),
    alt.Chart(m_med).mark_rule(color=RED, strokeWidth=2.6).encode(x=m_x("x1:Q"), x2=alt.X2("x2"), y=m_y("v:Q")),
    text_layer("m", -39, -52, 30, "bold"),
]
panel_m = alt.layer(*m_layers).properties(width=M_W, height=M_H)

# ---------------- panel n ----------------
N_W, N_H = 678, 478
COL_GAP = 0.08
n_slots, s, prev = [], 0, None
for cl in N_CLASS:
    if prev is not None and cl != prev:
        s += 1
    n_slots.append(s)
    s += 1
    prev = cl
N_TOTAL = s


def col_left(j):
    return j + (COL_GAP if j > 0 else 0.0)


cells = []
for i, rid in enumerate(N_ROWS):
    for j, col in enumerate(N_COLS):
        v = N_VALUES[i][j]
        cells.append({"xl": col_left(j), "xr": col_left(j) + 1, "xc": col_left(j) + 0.5,
                      "slot": n_slots[i], "slot2": n_slots[i] + 1, "yc": n_slots[i] + 0.5,
                      "val": v, "lab": "1000" if v >= 1000 else "%.1f" % v})
cells_df = pd.DataFrame(cells)
ids_df = pd.DataFrame({"id": N_ROWS, "yc": [sl + 0.5 for sl in n_slots]})
groups = []
for cl in dict.fromkeys(N_CLASS):
    sl = [n_slots[i] for i, c in enumerate(N_CLASS) if c == cl]
    groups.append({"cls": cl, "y0": min(sl), "y1": max(sl) + 1, "ym": (min(sl) + max(sl) + 1) / 2.0})
groups_df = pd.DataFrame(groups)
frames = []
for gr in groups:
    frames.append({"xl": 0.0, "xr": 1.0, "slot": gr["y0"], "slot2": gr["y1"]})
    frames.append({"xl": col_left(1), "xr": col_left(len(N_COLS) - 1) + 1, "slot": gr["y0"], "slot2": gr["y1"]})
frames_df = pd.DataFrame(frames)
heads_df = pd.DataFrame({"name": N_COLS, "xc": [col_left(j) + 0.5 for j in range(len(N_COLS))]})


def n_x(field):
    return alt.X(field, scale=alt.Scale(domain=[0, col_left(len(N_COLS) - 1) + 1], nice=False, zero=False), axis=None)


def n_y(field):
    return alt.Y(field, scale=alt.Scale(domain=[0, N_TOTAL], reverse=True, nice=False, zero=False), axis=None)


n_layers = [
    alt.Chart(cells_df).mark_rect(stroke="#333333", strokeWidth=0.8).encode(
        x=n_x("xl:Q"), x2=alt.X2("xr"), y=n_y("slot:Q"), y2=alt.Y2("slot2"),
        fill=alt.Fill("val:Q", scale=alt.Scale(type="pow", exponent=0.33, domain=[10, 1000], zero=False,
                                               range=["#ffffff", "#E9474A"], interpolate="rgb",
                                               clamp=True), legend=None)),
    alt.Chart(frames_df).mark_rect(filled=False, stroke="#111111", strokeWidth=1.6).encode(
        x=n_x("xl:Q"), x2=alt.X2("xr"), y=n_y("slot:Q"), y2=alt.Y2("slot2")),
    alt.Chart(cells_df).mark_text(font=FONT, fontSize=15.5, color="black").encode(
        x=n_x("xc:Q"), y=n_y("yc:Q"), text="lab:N"),
    alt.Chart(ids_df).mark_text(font=FONT, fontSize=15.5, color="black").encode(
        x=alt.value(-34.5), y=n_y("yc:Q"), text="id:N"),
    alt.Chart(groups_df).mark_text(font=FONT, fontSize=15.5, color="black", align="right").encode(
        x=alt.value(-79), y=n_y("ym:Q"), text="cls:N"),
    alt.Chart(groups_df).mark_rule(color="#333333", strokeWidth=1).encode(
        x=alt.value(-66), y=n_y("y0:Q"), y2=alt.Y2("y1")),
    alt.Chart(heads_df).mark_text(font=FONT, fontSize=15.5, color="black", angle=315, align="left",
                                  baseline="alphabetic", dx=-14).encode(
        x=n_x("xc:Q"), y=alt.value(-7), text="name:N"),
    text_layer("n", -148, -52, 30, "bold"),
]
panel_n = alt.layer(*n_layers).properties(width=N_W, height=N_H)

# ---------------- layout ----------------
# With flush bounds a nested concat counts as zero size, so the spacing below is
# the distance between the tops of consecutive rows.
RES = dict(color="independent", x="independent", y="independent", fill="independent")

row1 = alt.hconcat(panel_a, alt.hconcat(panel_b, panel_c, spacing=60, bounds="flush").resolve_scale(**RES),
                   spacing=99, bounds="flush").resolve_scale(**RES)
row2 = alt.hconcat(panel_d, panel_e, panel_f, panel_g, panel_h, spacing=58.5, bounds="flush").resolve_scale(**RES)
row3 = alt.hconcat(panel_i, panel_j, panel_k, panel_l, spacing=58.5, bounds="flush").resolve_scale(**RES)
row4 = alt.hconcat(panel_m, panel_n, spacing=257, bounds="flush").resolve_scale(**RES)

chart = alt.vconcat(
    row1,
    alt.vconcat(row2, alt.vconcat(row3, row4, spacing=342, bounds="flush").resolve_scale(**RES),
                spacing=351, bounds="flush").resolve_scale(**RES),
    spacing=507, bounds="flush",
).resolve_scale(**RES).properties(
    padding={"left": 0, "top": 0, "right": 4, "bottom": 0}
).configure(font=FONT).configure_axis(
    labelFont=FONT, titleFont=FONT, labelColor="black", titleColor="black", titleFontWeight="normal",
    domainColor=AXC, tickColor=AXC, domainWidth=1.3, tickWidth=1.3, grid=False
).configure_view(stroke="transparent").configure_legend(labelFont=FONT)

chart.save("out.html", embed_options={"renderer": "svg", "actions": False})
